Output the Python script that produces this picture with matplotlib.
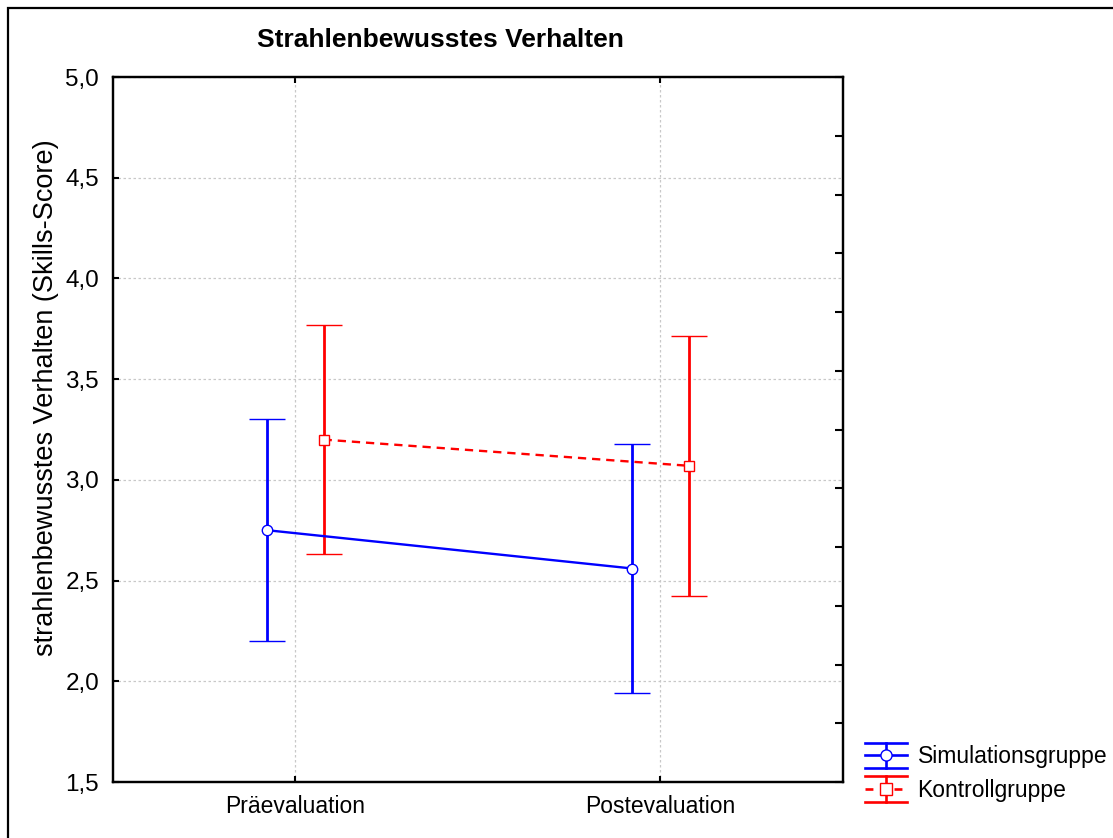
import numpy as np
import matplotlib
matplotlib.use("Agg")
import matplotlib.pyplot as plt
from matplotlib.lines import Line2D
from matplotlib.patches import Rectangle
from matplotlib.legend_handler import HandlerBase
from matplotlib.ticker import FuncFormatter

plt.rcParams['font.family'] = ['Liberation Sans', 'DejaVu Sans']

# Mittelwerte und Fehlerbalken (symmetrisch)
phasen = ['Präevaluation', 'Postevaluation']
gruppen = ['Simulationsgruppe', 'Kontrollgruppe']
mittel_sim = [2.75, 2.56]
fehler_sim = [0.55, 0.62]
mittel_kon = [3.20, 3.07]
fehler_kon = [0.57, 0.645]

farben = ['#0000ff', '#ff0000']
linien = ['-', '--']
marker = ['o', 's']
versatz = [-0.077, 0.077]


class FehlerHandler(HandlerBase):
    # Legendensymbol: Kappen oben/unten, Mittellinie, senkrechter Balken, Marker
    def create_artists(self, legend, orig_handle, xdescent, ydescent,
                       width, height, fontsize, trans):
        c = orig_handle.get_color()
        ls = orig_handle.get_linestyle()
        m = orig_handle.get_marker()
        x0, x1 = -xdescent, -xdescent + width
        y0, y1 = -ydescent - 0.1 * height, -ydescent + 1.1 * height
        ym = (y0 + y1) / 2
        xm = (x0 + x1) / 2
        arts = [
            Line2D([x0, x1], [y0, y0], color=c, lw=1.9),
            Line2D([x0, x1], [y1, y1], color=c, lw=1.9),
            Line2D([xm, xm], [y0, y1], color=c, lw=1.9),
            Line2D([x0, x1], [ym, ym], color=c, lw=1.9, linestyle=ls,
                   dashes=(3, 2.5) if ls == '--' else (None, None)),
            Line2D([xm], [ym], color=c, marker=m, markersize=8,
                   markerfacecolor='white', markeredgecolor=c, lw=0),
        ]
        for a in arts:
            a.set_transform(trans)
        return arts


fig = plt.figure(figsize=(11.13, 8.38), dpi=100)
ax = fig.add_axes([0.1015, 0.0668, 0.6559, 0.8413])

x = np.arange(len(phasen))
for mw, fe, c, ls, mk, dx in zip([mittel_sim, mittel_kon], [fehler_sim, fehler_kon],
                                 farben, linien, marker, versatz):
    eb = ax.errorbar(x + dx, mw, yerr=fe, color=c, ecolor=c, elinewidth=2.0,
                     capsize=13, capthick=2.2, lw=1.7, linestyle=ls,
                     marker=mk, markersize=7.5, markerfacecolor='white',
                     markeredgecolor=c, markeredgewidth=1.0, zorder=3)
    if ls == '--':
        eb.lines[0].set_dashes((3.5, 2.5))

ax.set_xlim(-0.5, 1.5)
ax.set_ylim(1.5, 5.0)
ax.set_xticks(x)
ax.set_xticklabels(phasen, fontsize=16.5)
ax.set_yticks(np.arange(1.5, 5.01, 0.5))
ax.yaxis.set_major_formatter(FuncFormatter(lambda v, p: f'{v:.1f}'.replace('.', ',')))

ax.grid(True, color='#c8c8c8', linestyle=(0, (2, 2)), linewidth=0.9)
ax.set_axisbelow(True)
for s in ax.spines.values():
    s.set_linewidth(1.6)

ax.tick_params(axis='both', direction='in', length=4, width=1.5,
               top=True, right=False)
ax.tick_params(axis='y', pad=10, labelsize=17.5)
ax.tick_params(axis='x', pad=9)

# rechte Achse: feinere Einteilung ohne Beschriftung
ax_r = ax.twinx()
ax_r.set_ylim(ax.get_ylim())
ax_r.set_yticks(np.linspace(1.5, 5.0, 13))
ax_r.set_yticklabels([])
ax_r.tick_params(axis='y', direction='in', length=6, width=1.5)
for s in ax_r.spines.values():
    s.set_linewidth(1.6)

ax.set_ylabel('strahlenbewusstes Verhalten (Skills-Score)', fontsize=19.5)
ax.yaxis.set_label_coords(-0.074, 0.545)

fig.text(440 / 1113, 1 - 40 / 838, 'Strahlenbewusstes Verhalten',
         fontsize=19, fontweight='bold', ha='center', va='center')

proxies = [Line2D([], [], color=c, linestyle=ls, marker=mk)
           for c, ls, mk in zip(farben, linien, marker)]
fig.legend(proxies, gruppen, handler_map={Line2D: FehlerHandler()},
           loc='lower left', bbox_to_anchor=(0.777, 0.043), frameon=False,
           fontsize=16.5, handlelength=1.85, handleheight=1.05, handletextpad=0.45,
           labelspacing=0.45, borderpad=0, borderaxespad=0)

# Rahmen um die Grafik
fig.add_artist(Rectangle((8 / 1113, -0.1), 1.2, 1.1 - 8 / 838,
                         transform=fig.transFigure, fill=False,
                         linewidth=1.6, edgecolor='black', clip_on=False))

fig.savefig('out.png', dpi=100)
